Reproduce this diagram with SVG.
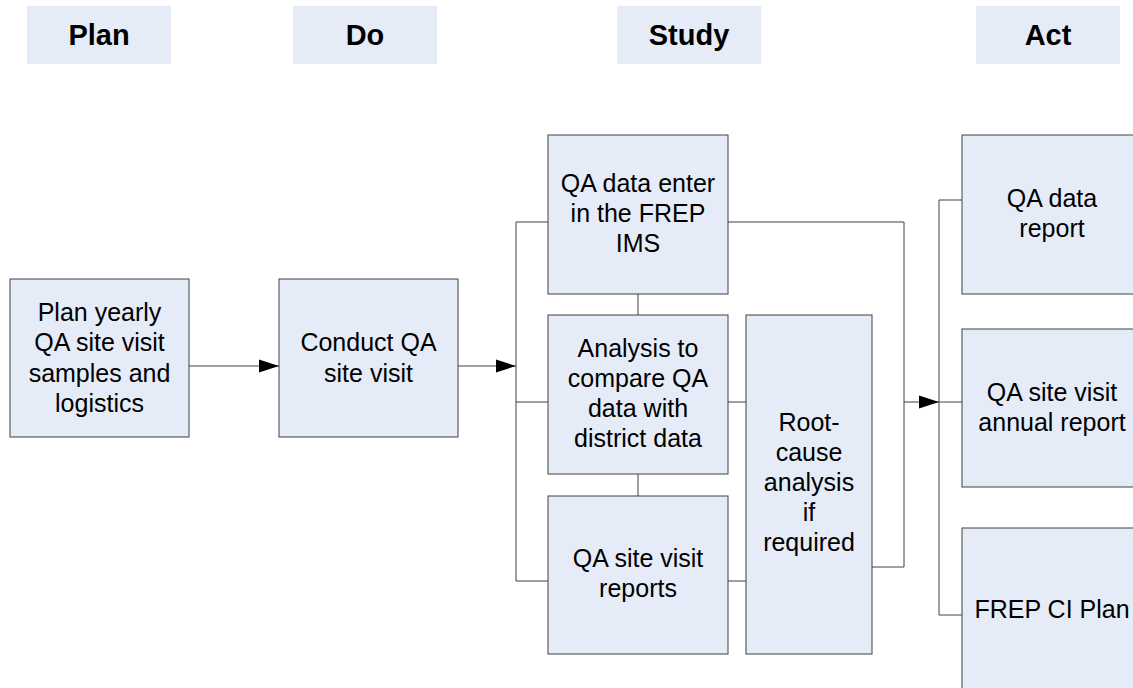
<svg xmlns="http://www.w3.org/2000/svg" width="1133" height="688" viewBox="0 0 1133 688">
<style>
.hdr{fill:#E6ECF7;stroke:none}
.box{fill:#E6ECF7;stroke:#404040;stroke-width:1}
.ht{font-family:"Liberation Sans",Arial,sans-serif;font-weight:bold;font-size:29px;fill:#000;text-anchor:middle}
.t{font-family:"Liberation Sans",Arial,sans-serif;font-size:25px;fill:#000;text-anchor:middle}
.ln{fill:none;stroke:#404040;stroke-width:1}
</style>
<defs>
<marker id="arr" markerUnits="userSpaceOnUse" markerWidth="22" markerHeight="14" refX="20" refY="7" orient="auto">
<path d="M0,0.5 L20,7 L0,13.5 Z" fill="#000"/>
</marker>
</defs>
<g id="hdr-plan"><rect class="hdr" x="27" y="6" width="144" height="58"/><text class="ht" x="99" y="45">Plan</text></g>
<g id="hdr-do"><rect class="hdr" x="293" y="6" width="144" height="58"/><text class="ht" x="365" y="45">Do</text></g>
<g id="hdr-study"><rect class="hdr" x="617" y="6" width="144" height="58"/><text class="ht" x="689" y="45">Study</text></g>
<g id="hdr-act"><rect class="hdr" x="976" y="6" width="144" height="58"/><text class="ht" x="1048" y="45">Act</text></g>

<g id="connectors">
<line class="ln" x1="189" y1="366" x2="279" y2="366" marker-end="url(#arr)"/>
<line class="ln" x1="458" y1="366" x2="516" y2="366" marker-end="url(#arr)"/>
<polyline class="ln" points="548,222 516,222 516,581 548,581"/>
<line class="ln" x1="516" y1="402" x2="548" y2="402"/>
<line class="ln" x1="638" y1="294" x2="638" y2="315"/>
<line class="ln" x1="638" y1="474" x2="638" y2="496"/>
<line class="ln" x1="728" y1="402" x2="746" y2="402"/>
<line class="ln" x1="728" y1="581" x2="746" y2="581"/>
<polyline class="ln" points="728,222 904,222 904,567 872,567"/>
<line class="ln" x1="904" y1="402" x2="939" y2="402" marker-end="url(#arr)"/>
<polyline class="ln" points="962,200 939,200 939,615 962,615"/>
<line class="ln" x1="939" y1="402" x2="962" y2="402"/>
</g>

<g id="n-plan"><rect class="box" x="10" y="279" width="179" height="158"/>
<text class="t" x="99.5" y="321">Plan yearly</text><text class="t" x="99.5" y="351">QA site visit</text><text class="t" x="99.5" y="382">samples and</text><text class="t" x="99.5" y="412">logistics</text></g>
<g id="n-conduct"><rect class="box" x="279" y="279" width="179" height="158"/>
<text class="t" x="368.5" y="351">Conduct QA</text><text class="t" x="368.5" y="382">site visit</text></g>
<g id="n-enter"><rect class="box" x="548" y="135" width="180" height="159"/>
<text class="t" x="638" y="192">QA data enter</text><text class="t" x="638" y="222">in the FREP</text><text class="t" x="638" y="252">IMS</text></g>
<g id="n-analysis"><rect class="box" x="548" y="315" width="180" height="159"/>
<text class="t" x="638" y="357">Analysis to</text><text class="t" x="638" y="387">compare QA</text><text class="t" x="638" y="417">data with</text><text class="t" x="638" y="447">district data</text></g>
<g id="n-reports"><rect class="box" x="548" y="496" width="180" height="158"/>
<text class="t" x="638" y="567">QA site visit</text><text class="t" x="638" y="597">reports</text></g>
<g id="n-root"><rect class="box" x="746" y="315" width="126" height="339"/>
<text class="t" x="809" y="431">Root-</text><text class="t" x="809" y="461">cause</text><text class="t" x="809" y="491">analysis</text><text class="t" x="809" y="521">if</text><text class="t" x="809" y="551">required</text></g>
<g id="n-datareport"><rect class="box" x="962" y="135" width="180" height="159"/>
<text class="t" x="1052" y="207">QA data</text><text class="t" x="1052" y="237">report</text></g>
<g id="n-annual"><rect class="box" x="962" y="329" width="180" height="158"/>
<text class="t" x="1052" y="401">QA site visit</text><text class="t" x="1052" y="431">annual report</text></g>
<g id="n-ciplan"><rect class="box" x="962" y="528" width="180" height="170"/>
<text class="t" x="1052" y="618">FREP CI Plan</text></g>
</svg>
